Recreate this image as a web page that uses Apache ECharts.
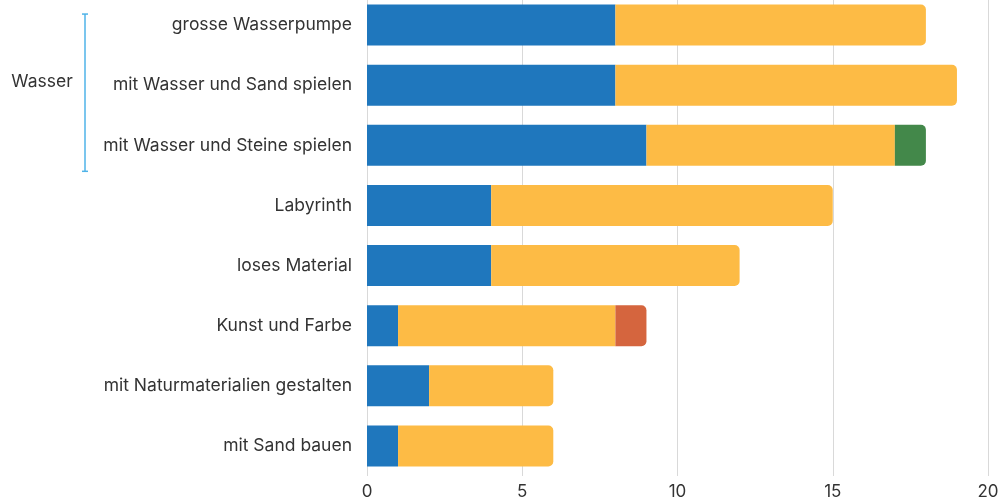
<!DOCTYPE html>
<html>
<head>
<meta charset="utf-8">
<style>
  html, body { margin: 0; padding: 0; background: #fff; }
  #chart { width: 1000px; height: 497px; }
</style>
<script src="https://cdn.jsdelivr.net/npm/echarts@6/dist/echarts.min.js"></script>
</head>
<body>
<div id="chart"></div>
<script>
// categories top to bottom
var categories = [
  'grosse Wasserpumpe',
  'mit Wasser und Sand spielen',
  'mit Wasser und Steine spielen',
  'Labyrinth',
  'loses Material',
  'Kunst und Farbe',
  'mit Naturmaterialien gestalten',
  'mit Sand bauen'
];
var blueValues = [8, 8, 9, 4, 4, 1, 2, 1];
var yellowValues = [10, 11, 8, 11, 8, 7, 4, 5];
var greenValues = [0, 0, 1, 0, 0, 0, 0, 0];
var redValues = [0, 0, 0, 0, 0, 1, 0, 0];
var xTicks = [0, 5, 10, 15, 20];
var groupName = 'Wasser';
var groupMembers = ['grosse Wasserpumpe', 'mit Wasser und Sand spielen', 'mit Wasser und Steine spielen'];

var font = 'Inter, "Noto Sans", sans-serif';
var colors = ['#1f77bd', '#fdbb45', '#43884a', '#d5653e'];
var seriesValues = [blueValues, yellowValues, greenValues, redValues];

// round the right end of whichever segment is last in each row
var lastIdx = categories.map(function (c, i) {
  var last = 0;
  seriesValues.forEach(function (vals, s) { if (vals[i] > 0) last = s; });
  return last;
});

var series = seriesValues.map(function (vals, s) {
  return {
    type: 'bar',
    stack: 'total',
    barWidth: 41,
    itemStyle: { color: colors[s] },
    data: vals.map(function (v, i) {
      return {
        value: v === 0 ? null : v,
        itemStyle: { borderRadius: lastIdx[i] === s ? [0, 5, 5, 0] : 0 }
      };
    })
  };
});

var myChart = echarts.init(document.getElementById('chart'));
var option = {
  animation: false,
  grid: { left: 367, right: 12, top: -5, height: 481, outerBoundsMode: 'none', containLabel: false },
  xAxis: {
    type: 'value',
    min: xTicks[0],
    max: xTicks[xTicks.length - 1],
    interval: 5,
    axisLine: { show: false },
    axisTick: { show: false },
    axisLabel: { color: '#333', fontSize: 17, fontFamily: font, margin: 7 },
    splitLine: { lineStyle: { color: '#d9d9d9', width: 1 } }
  },
  yAxis: {
    type: 'category',
    inverse: true,
    data: categories,
    axisLine: { show: false },
    axisTick: { show: false },
    axisLabel: { color: '#333', fontSize: 17.5, fontFamily: font, margin: 15 }
  },
  series: series
};
myChart.setOption(option);

// group bracket on the left, placed from the category positions
var yFirst = myChart.convertToPixel({ yAxisIndex: 0 }, groupMembers[0]);
var yMid = myChart.convertToPixel({ yAxisIndex: 0 }, groupMembers[1]);
var yLast = myChart.convertToPixel({ yAxisIndex: 0 }, groupMembers[groupMembers.length - 1]);
var yTop = yFirst - 11;
var yBot = yLast + 26;
var bx = 85;
var bracketColor = '#4fb3e8';
myChart.setOption({
  graphic: [
    { type: 'line', shape: { x1: bx, y1: yTop, x2: bx, y2: yBot }, style: { stroke: bracketColor, lineWidth: 1.5 } },
    { type: 'line', shape: { x1: bx - 3, y1: yTop, x2: bx + 3, y2: yTop }, style: { stroke: bracketColor, lineWidth: 1.5 } },
    { type: 'line', shape: { x1: bx - 3, y1: yBot, x2: bx + 3, y2: yBot }, style: { stroke: bracketColor, lineWidth: 1.5 } },
    {
      type: 'text', x: 42, y: yMid - 3,
      style: { text: groupName, fill: '#333', fontSize: 17.5, fontFamily: font, align: 'center', verticalAlign: 'middle' }
    }
  ]
});
window.onresize = myChart.resize;
</script>
</body>
</html>
